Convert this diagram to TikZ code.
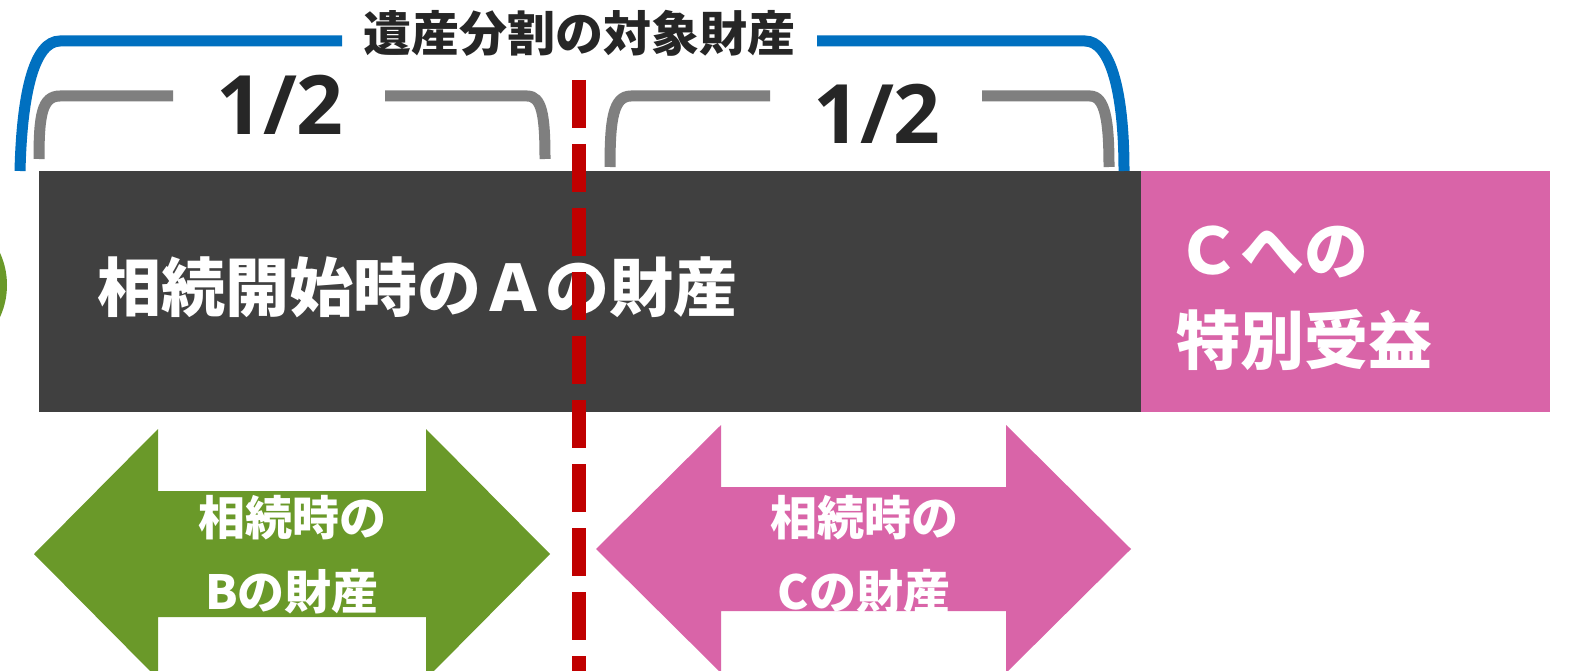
\documentclass[tikz,border=0pt]{standalone}
\usepackage{fontspec}
\newfontfamily\jp{Noto Sans CJK JP}
\newfontfamily\lat{Open Sans}
\definecolor{darkbox}{RGB}{64,64,64}
\definecolor{pinkc}{RGB}{217,100,168}
\definecolor{greenc}{RGB}{106,153,41}
\definecolor{bluec}{RGB}{0,112,192}
\definecolor{grayc}{RGB}{127,127,127}
\definecolor{redc}{RGB}{192,0,0}
\definecolor{textc}{RGB}{38,38,38}
\tikzset{
  bluebr/.style={draw=bluec,line width=11pt},
  graybr/.style={draw=grayc,line width=11pt},
  half/.style={font=\lat\bfseries\fontsize{82}{90}\selectfont,text=textc,anchor=base,inner sep=0pt},
  arrtext/.style={font=\jp\bfseries\fontsize{47}{56}\selectfont,text=white,anchor=base,inner sep=0pt},
  bigtext/.style={font=\jp\bfseries\fontsize{64}{76}\selectfont,text=white,anchor=base west,inner sep=0pt},
}
\begin{document}
\begin{tikzpicture}[x=1pt,y=-1pt]
\clip (0,0) rectangle (1570,671);
\fill[white] (0,0) rectangle (1570,671);
% boxes
\node[fill=darkbox,inner sep=0pt,minimum width=1102pt,minimum height=241pt,anchor=north west] (abox) at (39,171) {};
\node[fill=pinkc,inner sep=0pt,minimum width=409pt,minimum height=241pt,anchor=north west] (cbox) at (1141,171) {};
% partial green circle
\fill[greenc] (-70,285) circle (77);
% blue bracket
\draw[bluebr] (20,171) .. controls (22,90) and (35,41) .. (60,41) -- (342,41);
\draw[bluebr] (817,41) -- (1085,41) .. controls (1110,41) and (1124,90) .. (1124,171);
\node[font=\jp\bfseries\fontsize{48}{56}\selectfont,text=textc,anchor=base,inner sep=0pt] (title) at (579,52) {遺産分割の対象財産};
% gray brackets
\draw[graybr] (39,159) .. controls (39,115) and (42,96) .. (60,96) -- (173,96);
\draw[graybr] (385,96) -- (527,96) .. controls (542,96) and (545,115) .. (545,159);
\draw[graybr] (610,167) .. controls (610,120) and (613,96) .. (631,96) -- (770,96);
\draw[graybr] (982,96) -- (1090,96) .. controls (1105,96) and (1109,120) .. (1109,167);
\node[half] (h1) at (280,135) {1/2};
\node[half] (h2) at (877,144) {1/2};
% texts in boxes
\node[bigtext] (atext) at (97,311) {相続開始時のＡの財産};
\node[bigtext] (ctext1) at (1176,274) {Ｃへの};
\node[bigtext] (ctext2) at (1176,364) {特別受益};
% arrows
\fill[greenc] (34,554) -- (158,429) -- (158,491) -- (426,491) -- (426,429) -- (550,554) -- (426,679) -- (426,617) -- (158,617) -- (158,679) -- cycle;
\fill[pinkc] (596,549) -- (721,425) -- (721,487) -- (1006,487) -- (1006,425) -- (1131,549) -- (1006,673) -- (1006,611) -- (721,611) -- (721,673) -- cycle;
\node[arrtext] (b1) at (292,535) {相続時の};
\node[arrtext] (b2) at (292,609) {Bの財産};
\node[arrtext] (c1) at (864,535) {相続時の};
\node[arrtext] (c2) at (864,609) {Cの財産};
% red dashed line
\coordinate (rtop) at (579,80);
\coordinate (rbot) at (579,700);
\draw[redc,line width=14pt,dash pattern=on 48pt off 16pt] (rtop) -- (rbot);
\end{tikzpicture}
\end{document}
